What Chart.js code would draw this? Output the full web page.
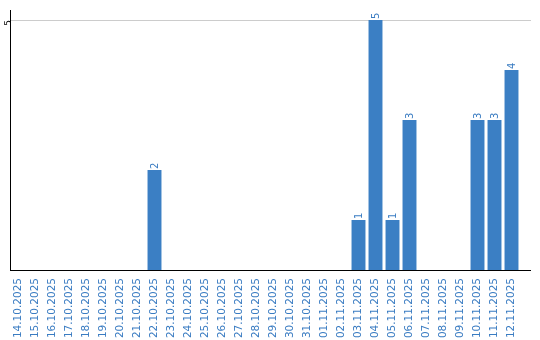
<!DOCTYPE html>
<html>
<head>
<meta charset="utf-8">
<script src="https://cdn.jsdelivr.net/npm/chart.js@4/dist/chart.umd.min.js"></script>
<style>
  html, body { margin: 0; padding: 0; background: #fff; }
  #wrap { width: 540px; height: 340px; }
</style>
</head>
<body>
<div id="wrap"><canvas id="chart" width="540" height="340"></canvas></div>
<script>
// dates on the x axis
const dates = [
  '14.10.2025', '15.10.2025', '16.10.2025', '17.10.2025', '18.10.2025',
  '19.10.2025', '20.10.2025', '21.10.2025', '22.10.2025', '23.10.2025',
  '24.10.2025', '25.10.2025', '26.10.2025', '27.10.2025', '28.10.2025',
  '29.10.2025', '30.10.2025', '31.10.2025', '01.11.2025', '02.11.2025',
  '03.11.2025', '04.11.2025', '05.11.2025', '06.11.2025', '07.11.2025',
  '08.11.2025', '09.11.2025', '10.11.2025', '11.11.2025', '12.11.2025'
]
// counts per day
const counts = [
  0, 0, 0, 0, 0, 0, 0, 0, 2, 0,
  0, 0, 0, 0, 0, 0, 0, 0, 0, 0,
  1, 5, 1, 3, 0, 0, 0, 3, 3, 4
]
const yTicks = [5]

const barColor = '#3b7fc4'
const textColor = '#3a7cc2'

// value labels on top of the bars, rotated
const valueLabels = {
  id: 'valueLabels',
  afterDatasetsDraw(chart){
    const ctx = chart.ctx
    const meta = chart.getDatasetMeta(0)
    ctx.save()
    ctx.fillStyle = textColor
    ctx.font = '10px "DejaVu Sans"'
    ctx.textBaseline = 'middle'
    ctx.textAlign = 'left'
    meta.data.forEach((bar, i) => {
      const v = counts[i]
      if (!v) return
      ctx.save()
      ctx.translate(bar.x + 0.5, bar.y - 1)
      ctx.rotate(-Math.PI / 2)
      ctx.fillText(String(v), 0, 0)
      ctx.restore()
    })
    ctx.restore()
  }
}

// the axis line and the grid line run a bit past the last bar
const extendLines = {
  id: 'extendLines',
  afterDraw(chart){
    const ctx = chart.ctx
    const area = chart.chartArea
    const y = chart.scales.y
    ctx.save()
    ctx.lineWidth = 1
    ctx.strokeStyle = '#cccccc'
    yTicks.forEach(t => {
      const py = Math.round(y.getPixelForValue(t)) + 0.5
      ctx.beginPath()
      ctx.moveTo(area.right, py)
      ctx.lineTo(531, py)
      ctx.stroke()
    })
    ctx.strokeStyle = '#000'
    ctx.beginPath()
    ctx.moveTo(area.right, Math.round(area.bottom) + 0.5)
    ctx.lineTo(531, Math.round(area.bottom) + 0.5)
    ctx.stroke()
    ctx.restore()
  }
}

const ctx = document.getElementById('chart').getContext('2d')
new Chart(ctx, {
  type: 'bar',
  data: {
    labels: dates,
    datasets: [{
      data: counts,
      backgroundColor: barColor,
      borderWidth: 0,
      categoryPercentage: 1,
      barPercentage: 0.82
    }]
  },
  options: {
    responsive: false,
    animation: false,
    layout: { padding: { top: 10, right: 20, left: 0, bottom: 0 } },
    plugins: { legend: { display: false }, tooltip: { enabled: false } },
    scales: {
      x: {
        grid: { display: false },
        border: { display: true, color: '#000', width: 1 },
        ticks: {
          color: textColor,
          font: { family: 'DejaVu Sans', size: 10.5 },
          minRotation: 90,
          maxRotation: 90,
          autoSkip: false,
          padding: 0
        },
        afterFit(scale){ scale.height = 70 }
      },
      y: {
        min: 0,
        max: 5.2,
        afterBuildTicks(scale){ scale.ticks = yTicks.map(v => ({ value: v })) },
        grid: { color: '#cccccc', drawTicks: false, tickLength: 0 },
        border: { display: true, color: '#000', width: 1 },
        ticks: {
          color: '#000',
          font: { family: 'DejaVu Sans', size: 9 },
          minRotation: 90,
          maxRotation: 90,
          padding: 1
        },
        afterFit(scale){ scale.width = 10 }
      }
    }
  },
  plugins: [valueLabels, extendLines]
})
</script>
</body>
</html>
